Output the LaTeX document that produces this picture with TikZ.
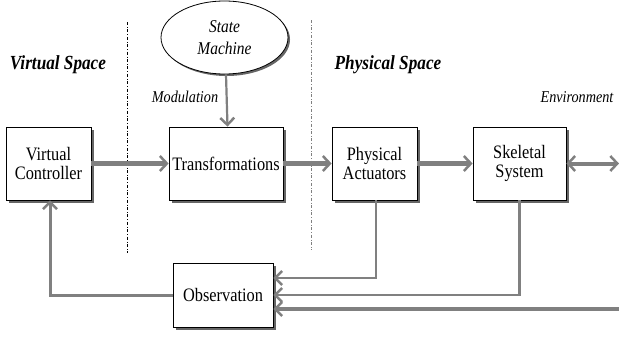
\documentclass[tikz,border=0pt]{standalone}
\usepackage{fontspec}
\setmainfont[FakeStretch=0.86]{Liberation Serif}
\usetikzlibrary{arrows.meta,shadows,shapes.geometric}

\begin{document}
\begin{tikzpicture}[x=1pt,y=-1pt,
    blk/.style={draw,thick,fill=white,align=center,inner sep=0pt,minimum height=73pt,
      font=\fontsize{19}{19.5}\selectfont,
      drop shadow={shadow xshift=2.5pt,shadow yshift=-2.5pt,fill=black!60,opacity=1}},
    flow/.style={draw=gray,line width=4.5pt,-{Straight Barb[length=7pt,width=15pt,line width=2.5pt]}},
    fb/.style={draw=gray,line width=2.8pt,-{Straight Barb[length=7pt,width=14pt,line width=2.5pt]}},
    lbl/.style={font=\fontsize{16.5}{18}\selectfont\itshape},
    space/.style={font=\fontsize{20}{22}\selectfont\bfseries\itshape}]
    \useasboundingbox (0,0) rectangle (619,340);
    \node[blk,minimum width=85pt] (vc) at (48.5,163.5) {Virtual\\Controller};
    \node[blk,minimum width=114pt] (tr) at (226,163.5) {Transformations};
    \node[blk,minimum width=85pt] (pa) at (374.5,163.5) {Physical\\Actuators};
    \node[blk,minimum width=93pt] (ss) at (519.5,163.5) {Skeletal\\System};
    \node[blk,minimum width=100pt,minimum height=64pt] (obs) at (223,295) {Observation};
    \node[draw,thick,ellipse,fill=white,minimum width=127pt,minimum height=73pt,align=center,
      font=\fontsize{18}{22}\selectfont\itshape,
      drop shadow={shadow xshift=2pt,shadow yshift=-2pt,fill=black!60,opacity=1}] (sm) at (224.5,37.5) {State\\Machine};
    \node[space] (vs) at (58,65) {Virtual Space};
    \node[space] (ps) at (388,65) {Physical Space};
    \node[lbl] (mod) at (185,97) {Modulation};
    \node[lbl] (env) at (577,97) {Environment};
    \coordinate (envin) at (619,309);
    \coordinate (envout) at (619,163.5);
    \draw[thin,dash dot] (127,22) -- (127,253);
    \draw[thin,gray,dash dot] (311,20) -- (311,250);
    \draw[flow] (vc) -- (tr);
    \draw[flow] (tr) -- (pa);
    \draw[flow] (pa) -- (ss);
    \draw[flow,line width=4pt,{Straight Barb[length=7pt,width=15pt,line width=2.5pt]}-{Straight Barb[length=7pt,width=15pt,line width=2.5pt]}] (ss) -- (envout);
    \draw[fb,line width=2.2pt] ([xshift=1.5pt]sm.south) -- ([xshift=1.5pt]tr.north);
    \draw[fb,line width=3pt] (obs.west) -| ([xshift=1.5pt]vc.south);
    \draw[fb] ([xshift=1.5pt]pa.south) |- ([yshift=17pt]obs.east);
    \draw[fb,line width=2.2pt] (ss.south) |- (obs.east);
    \draw[fb,line width=4pt] (envin) -- ([yshift=-14pt]obs.east);
  \end{tikzpicture}
\end{document}
